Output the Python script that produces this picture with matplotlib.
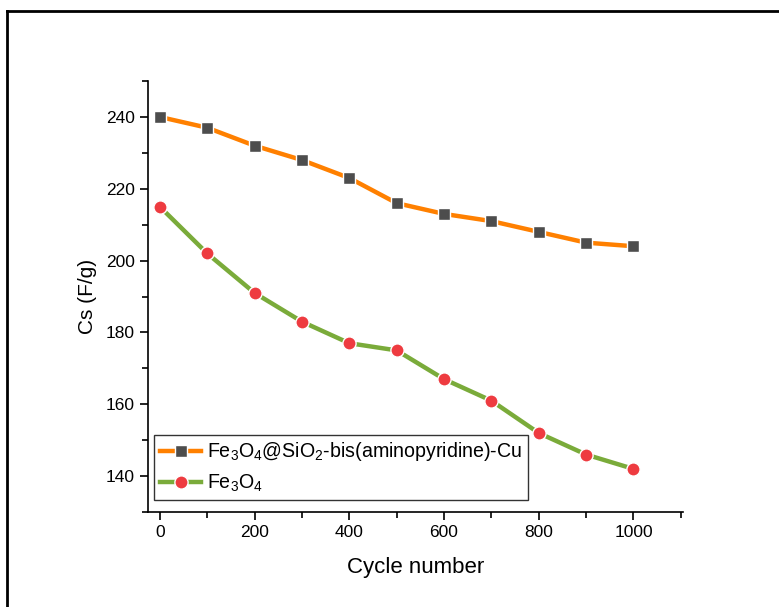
import matplotlib.pyplot as plt
from matplotlib.lines import Line2D
from matplotlib.ticker import MultipleLocator

plt.rcParams['font.family'] = ['Liberation Sans', 'DejaVu Sans']
plt.rcParams['mathtext.fontset'] = 'custom'
plt.rcParams['mathtext.rm'] = 'Liberation Sans'

# data
cycles = [0, 100, 200, 300, 400, 500, 600, 700, 800, 900, 1000]
cs_composite = [240, 237, 232, 228, 223, 216, 213, 211, 208, 205, 204]
cs_fe3o4 = [215, 202, 191, 183, 177, 175, 167, 161, 152, 146, 142]

label_composite = r"Fe$_3$O$_4$@SiO$_2$-bis(aminopyridine)-Cu"
label_fe3o4 = r"Fe$_3$O$_4$"

fig = plt.figure(figsize=(7.79, 6.07), dpi=100)
ax = fig.add_axes([0.19, 0.1565, 0.687, 0.71])

ax.plot(cycles, cs_composite, color="#FF8000", lw=3.2, marker="s", ms=8.5,
        mfc="#4D4D4D", mec="white", mew=1, label=label_composite)
ax.plot(cycles, cs_fe3o4, color="#7AAB3A", lw=3.2, marker="o", ms=9.5,
        mfc="#EE3B40", mec="white", mew=1, label=label_fe3o4)

ax.set_xlim(-25, 1105)
ax.set_ylim(130, 250)
ax.xaxis.set_major_locator(MultipleLocator(200))
ax.xaxis.set_minor_locator(MultipleLocator(100))
ax.yaxis.set_major_locator(MultipleLocator(20))
ax.yaxis.set_minor_locator(MultipleLocator(10))

for side in ["top", "right"]:
    ax.spines[side].set_visible(False)
for side in ["left", "bottom"]:
    ax.spines[side].set_linewidth(1.2)

ax.tick_params(which="major", direction="out", length=6, width=1.2, labelsize=12.5)
ax.tick_params(which="minor", direction="out", length=4, width=1.2)

ax.set_xlabel("Cycle number", fontsize=16, labelpad=12)
ax.set_ylabel("Cs (F/g)", fontsize=15, labelpad=6)

leg = ax.legend(loc="lower left", bbox_to_anchor=(0.012, 0.027), fontsize=14.1,
                frameon=True, fancybox=False, edgecolor="black",
                handlelength=2.1, handletextpad=0.3, borderpad=0.3,
                labelspacing=0.5, borderaxespad=0)
leg.get_frame().set_linewidth(1)

# outer frame (top and left edges visible)
fig.add_artist(Line2D([0.009, 1.0], [0.982, 0.982], color="black", lw=2,
                      transform=fig.transFigure))
fig.add_artist(Line2D([0.009, 0.009], [0.0, 0.982], color="black", lw=2,
                      transform=fig.transFigure))

fig.savefig("out.png", dpi=100)
